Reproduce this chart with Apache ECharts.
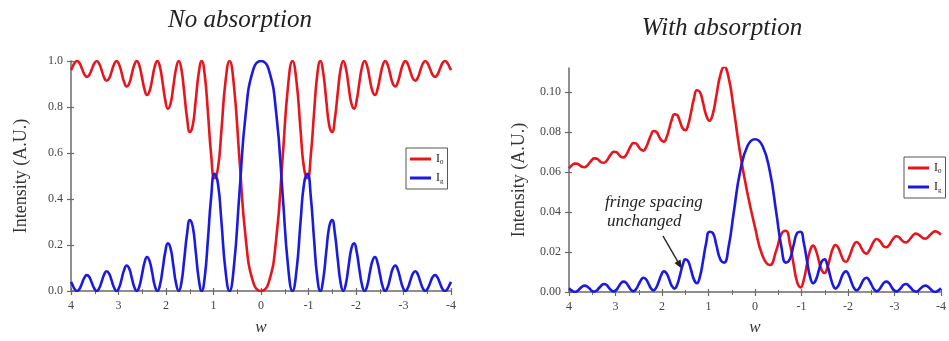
<!DOCTYPE html>
<html>
<head>
<meta charset="utf-8">
<script src="https://cdn.jsdelivr.net/npm/echarts@6/dist/echarts.min.js"></script>
<style>html,body{margin:0;padding:0;background:#fff;}#c{width:949px;height:341px;}</style>
</head>
<body>
<div id="c"></div>
<script>
// detuning w (x values, shared by all curves)
const w = [4.000,3.976,3.925,3.873,3.821,3.770,3.718,3.666,3.614,3.562,3.510,3.458,3.406,3.354,3.302,3.250,3.197,3.145,3.092,3.040,2.987,2.934,2.881,2.828,2.775,2.722,2.669,2.615,2.562,2.508,2.454,2.400,2.346,2.291,2.237,2.182,2.127,2.071,2.016,1.960,1.903,1.847,1.790,1.732,1.674,1.616,1.556,1.497,1.436,1.375,1.312,1.249,1.184,1.118,1.050,0.980,0.907,0.831,0.750,0.663,0.568,0.458,0.320,0.160,0,
-0.160,-0.320,-0.458,-0.568,-0.663,-0.750,-0.831,-0.907,-0.980,-1.050,-1.118,-1.184,-1.249,-1.312,-1.375,-1.436,-1.497,-1.556,-1.616,-1.674,-1.732,-1.790,-1.847,-1.903,-1.960,-2.016,-2.071,-2.127,-2.182,-2.237,-2.291,-2.346,-2.400,-2.454,-2.508,-2.562,-2.615,-2.669,-2.722,-2.775,-2.828,-2.881,-2.934,-2.987,-3.040,-3.092,-3.145,-3.197,-3.250,-3.302,-3.354,-3.406,-3.458,-3.510,-3.562,-3.614,-3.666,-3.718,-3.770,-3.821,-3.873,-3.925,-3.976,-4.000];

// No absorption
const i0Free = [0.960,0.970,0.991,1.000,0.991,0.967,0.942,0.931,0.939,0.964,0.989,1.000,0.988,0.959,0.928,0.914,0.924,0.954,0.986,1.000,0.985,0.948,0.908,0.889,0.902,0.941,0.982,1.000,0.981,0.931,0.878,0.852,0.869,0.920,0.976,1.000,0.974,0.906,0.831,0.793,0.815,0.887,0.965,1.000,0.962,0.862,0.751,0.691,0.721,0.827,0.946,1.000,0.939,0.778,0.594,0.490,0.532,0.704,0.906,1.000,0.889,0.587,0.226,0.035,0.000,
0.035,0.226,0.587,0.889,1.000,0.906,0.704,0.532,0.490,0.594,0.778,0.939,1.000,0.946,0.827,0.721,0.691,0.751,0.862,0.962,1.000,0.965,0.887,0.815,0.793,0.831,0.906,0.974,1.000,0.976,0.920,0.869,0.852,0.878,0.931,0.981,1.000,0.982,0.941,0.902,0.889,0.908,0.948,0.985,1.000,0.986,0.954,0.924,0.914,0.928,0.959,0.988,1.000,0.989,0.964,0.939,0.931,0.942,0.967,0.991,1.000,0.991,0.970,0.960];
const igFree = [0.040,0.030,0.009,0,0.009,0.033,0.058,0.069,0.061,0.036,0.011,0,0.012,0.041,0.072,0.086,0.076,0.046,0.014,0,0.015,0.052,0.092,0.111,0.098,0.059,0.018,0,0.019,0.069,0.122,0.148,0.131,0.080,0.024,0,0.026,0.094,0.169,0.207,0.185,0.113,0.035,0,0.038,0.138,0.249,0.309,0.279,0.173,0.054,0,0.061,0.222,0.406,0.510,0.468,0.296,0.094,0,0.111,0.413,0.774,0.965,1.000,
0.965,0.774,0.413,0.111,0,0.094,0.296,0.468,0.510,0.406,0.222,0.061,0,0.054,0.173,0.279,0.309,0.249,0.138,0.038,0,0.035,0.113,0.185,0.207,0.169,0.094,0.026,0,0.024,0.080,0.131,0.148,0.122,0.069,0.019,0,0.018,0.059,0.098,0.111,0.092,0.052,0.015,0,0.014,0.046,0.076,0.086,0.072,0.041,0.012,0,0.011,0.036,0.061,0.069,0.058,0.033,0.009,0,0.009,0.030,0.040];

// With absorption
const i0Abs = [0.0618,0.0624,0.0636,0.0642,0.0641,0.0634,0.0626,0.0624,0.0631,0.0645,0.0660,0.0668,0.0667,0.0658,0.0648,0.0646,0.0654,0.0672,0.0691,0.0701,0.0700,0.0688,0.0676,0.0673,0.0684,0.0707,0.0731,0.0745,0.0743,0.0728,0.0712,0.0707,0.0722,0.0753,0.0785,0.0805,0.0802,0.0781,0.0759,0.0752,0.0772,0.0815,0.0861,0.0889,0.0885,0.0854,0.0819,0.0809,0.0837,0.0899,0.0968,0.1009,0.1000,0.0947,0.0884,0.0856,0.0891,0.0981,0.1081,0.1127,0.1073,0.0916,0.0694,0.0491,0.0324,
0.0183,0.0135,0.0208,0.0290,0.0306,0.0242,0.0137,0.0049,0.0023,0.0062,0.0139,0.0207,0.0232,0.0207,0.0154,0.0108,0.0095,0.0122,0.0172,0.0217,0.0235,0.0222,0.0189,0.0159,0.0151,0.0170,0.0204,0.0236,0.0250,0.0241,0.0218,0.0198,0.0192,0.0206,0.0231,0.0255,0.0265,0.0259,0.0243,0.0227,0.0224,0.0234,0.0253,0.0271,0.0279,0.0275,0.0262,0.0251,0.0248,0.0256,0.0271,0.0285,0.0292,0.0288,0.0279,0.0269,0.0267,0.0274,0.0286,0.0297,0.0303,0.0300,0.0292,0.0288];
const igAbs = [0.0018,0.0014,0.0005,0.0001,0.0005,0.0016,0.0027,0.0032,0.0028,0.0018,0.0006,0.0002,0.0007,0.0020,0.0033,0.0040,0.0036,0.0022,0.0009,0.0003,0.0009,0.0026,0.0044,0.0052,0.0047,0.0030,0.0012,0.0004,0.0013,0.0035,0.0059,0.0071,0.0064,0.0042,0.0018,0.0008,0.0021,0.0051,0.0085,0.0103,0.0094,0.0064,0.0031,0.0017,0.0036,0.0082,0.0134,0.0163,0.0153,0.0110,0.0062,0.0044,0.0077,0.0155,0.0245,0.0301,0.0295,0.0235,0.0165,0.0147,0.0225,0.0396,0.0602,0.0731,0.0764,
0.0731,0.0602,0.0396,0.0225,0.0147,0.0165,0.0235,0.0295,0.0301,0.0245,0.0155,0.0077,0.0044,0.0062,0.0110,0.0153,0.0163,0.0134,0.0082,0.0036,0.0017,0.0031,0.0064,0.0094,0.0103,0.0085,0.0051,0.0021,0.0008,0.0018,0.0042,0.0064,0.0071,0.0059,0.0035,0.0013,0.0004,0.0012,0.0030,0.0047,0.0052,0.0044,0.0026,0.0009,0.0003,0.0009,0.0022,0.0036,0.0040,0.0033,0.0020,0.0007,0.0002,0.0006,0.0018,0.0028,0.0032,0.0027,0.0016,0.0005,0.0001,0.0005,0.0014,0.0018];

const xTicks = [-4,-3,-2,-1,0,1,2,3,4];
const yTicksFree = [0,0.2,0.4,0.6,0.8,1.0];
const yTicksAbs = [0,0.02,0.04,0.06,0.08,0.10];

const RED = '#e8161c', BLUE = '#1a1ae0';
const SERIF = '"Liberation Serif", "DejaVu Serif", serif';
const AX = '#6a6a6a';
const pairs = ys => w.map((x, i) => [x, ys[i]]);

function xAx(g, gap, main) {
  return {
    gridIndex: g, type: 'value', min: -4, max: 4, interval: 1, inverse: true, position: 'bottom',
    name: main ? 'w' : '', nameLocation: 'middle', nameGap: gap,
    nameTextStyle: {fontFamily: SERIF, fontStyle: 'italic', fontSize: 17, color: '#333'},
    axisLine: {show: main, onZero: false, lineStyle: {color: AX, width: 1.5}},
    axisTick: {show: true, inside: !main, length: main ? 4 : 3, lineStyle: {color: AX, width: 1.2}},
    minorTick: {show: true, splitNumber: 2, length: main ? 3 : 2, lineStyle: {color: AX, width: 1}},
    axisLabel: {show: main, fontFamily: SERIF, fontSize: 12, color: '#444', margin: 9},
    splitLine: {show: false}
  };
}
function yAx(g, max, ticks, dec, main) {
  return {
    gridIndex: g, type: 'value', min: 0, max: max, position: 'left',
    name: main ? 'Intensity (A.U.)' : '', nameLocation: 'middle', nameGap: 41,
    nameTextStyle: {fontFamily: SERIF, fontSize: 18, color: '#333'},
    axisLine: {show: main, onZero: false, lineStyle: {color: AX, width: 1.5}},
    axisTick: {show: true, inside: !main, length: main ? 4 : 3, customValues: ticks, lineStyle: {color: AX, width: 1.2}},
    axisLabel: {show: main, customValues: ticks, fontFamily: SERIF, fontSize: 12, color: '#444', margin: 8,
      formatter: v => Number(v).toFixed(dec)},
    splitLine: {show: false}
  };
}
function legendAt(left, top) {
  return {
    left: left, top: top, orient: 'vertical', icon: 'rect', itemWidth: 21, itemHeight: 3, itemGap: 6,
    padding: [5, 4, 4, 4], borderColor: '#555', borderWidth: 1, backgroundColor: '#fff',
    data: ['I0', 'Ig'],
    formatter: n => n === 'I0' ? '{m|I}{s|0}' : '{m|I}{s|g}',
    textStyle: {rich: {
      m: {fontFamily: SERIF, fontSize: 12, color: '#222'},
      s: {fontFamily: SERIF, fontSize: 7, color: '#222', padding: [7, 0, 0, 0]}
    }}
  };
}
function line(name, xi, data, color) {
  return {name: name, type: 'line', xAxisIndex: xi, yAxisIndex: xi, data: pairs(data), smooth: 0.5,
    symbol: 'none', lineStyle: {width: 2.6, color: color}, itemStyle: {color: color}};
}

const chart = echarts.init(document.getElementById('c'), null, {renderer: 'canvas'});
chart.setOption({
  animation: false,
  backgroundColor: '#fff',
  grid: [
    {left: 71, top: 61, width: 380, height: 230},
    {left: 569, top: 68, width: 380, height: 231}
  ],
  xAxis: [xAx(0, 28, true), xAx(1, 27, true), xAx(0, 0, false), xAx(1, 0, false)],
  yAxis: [yAx(0, 1.0, yTicksFree, 1, true), yAx(1, 0.112, yTicksAbs, 2, true),
          yAx(0, 1.0, yTicksFree, 1, false), yAx(1, 0.112, yTicksAbs, 2, false)],
  legend: [legendAt(406, 148), legendAt(904, 157)],
  series: [
    line('I0', 0, i0Free, RED), line('Ig', 0, igFree, BLUE),
    line('I0', 1, i0Abs, RED), line('Ig', 1, igAbs, BLUE)
  ],
  graphic: [
    {type: 'text', style: {text: 'No absorption', x: 240, y: 20, align: 'center', verticalAlign: 'middle',
      font: 'italic 25px "Liberation Serif"', fill: '#222'}},
    {type: 'text', style: {text: 'With absorption', x: 722, y: 28, align: 'center', verticalAlign: 'middle',
      font: 'italic 25px "Liberation Serif"', fill: '#222'}},
    {type: 'text', style: {text: 'fringe spacing', x: 605, y: 203, align: 'left', verticalAlign: 'middle',
      font: 'italic 17px "Liberation Serif"', fill: '#222'}},
    {type: 'text', style: {text: 'unchanged', x: 607, y: 222, align: 'left', verticalAlign: 'middle',
      font: 'italic 17px "Liberation Serif"', fill: '#222'}},
    {type: 'line', shape: {x1: 663, y1: 236, x2: 678, y2: 262}, style: {stroke: '#222', lineWidth: 1.5}},
    {type: 'polygon', shape: {points: [[682, 269], [680.5, 259.5], [674.5, 263]]}, style: {fill: '#222'}}
  ]
});
</script>
</body>
</html>
